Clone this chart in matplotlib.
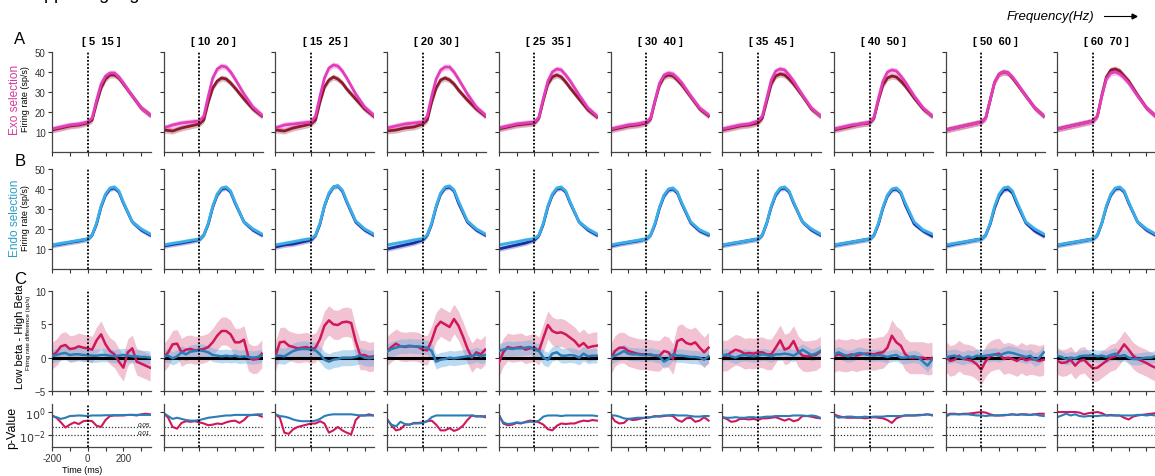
import numpy as np
import matplotlib.pyplot as plt

plt.rcParams['font.family'] = ['Liberation Sans', 'DejaVu Sans']

# frequency windows (one column each)
bands = ['[ 5  15 ]', '[ 10  20 ]', '[ 15  25 ]', '[ 20  30 ]', '[ 25  35 ]',
         '[ 30  40 ]', '[ 35  45 ]', '[ 40  50 ]', '[ 50  60 ]', '[ 60  70 ]']

# time axis (ms)
t_rate = [-200, -150, -100, -50, 0, 25, 50, 75, 100, 125, 150, 175, 200, 250, 300, 350]
t_diff = list(range(-200, 351, 25))

# A: exo selection firing rate, low beta (magenta) / high beta (dark red)
exo_low = [
    [11.5, 12.5, 13.5, 14.0, 15.0, 17.0, 26.0, 34.0, 38.0, 39.5, 39.5, 37.5, 34.5, 28.0, 22.0, 18.5],
    [12.0, 13.5, 14.5, 15.0, 15.5, 18.0, 28.0, 37.0, 41.5, 43.0, 42.5, 40.0, 36.5, 29.0, 22.5, 18.5],
    [12.0, 13.5, 14.0, 14.5, 15.0, 18.0, 28.0, 37.0, 42.0, 43.5, 43.0, 40.5, 37.0, 29.0, 22.5, 18.5],
    [12.0, 13.0, 14.0, 14.5, 15.0, 18.0, 28.0, 36.5, 41.0, 42.5, 42.5, 40.0, 36.5, 29.0, 22.5, 18.5],
    [12.0, 13.0, 14.0, 14.5, 15.0, 17.5, 27.0, 35.5, 40.0, 41.5, 41.0, 38.5, 35.5, 28.5, 22.0, 18.0],
    [11.5, 12.5, 13.5, 14.0, 15.0, 17.0, 26.0, 34.5, 38.5, 39.5, 39.0, 37.0, 34.5, 28.0, 22.0, 18.5],
    [11.5, 12.5, 13.5, 14.0, 15.5, 18.0, 27.0, 36.0, 40.5, 41.5, 41.0, 38.5, 35.5, 28.5, 22.0, 18.0],
    [11.5, 12.5, 13.5, 14.0, 15.0, 17.5, 27.0, 35.5, 40.0, 41.0, 40.5, 38.0, 35.0, 28.0, 22.0, 18.0],
    [11.0, 12.0, 13.0, 14.0, 15.0, 17.0, 26.0, 35.0, 39.0, 40.0, 39.5, 37.5, 34.5, 28.0, 22.0, 18.0],
    [11.5, 12.5, 13.5, 14.5, 15.5, 18.0, 28.0, 36.5, 39.5, 40.0, 39.0, 37.0, 34.5, 28.0, 22.0, 18.0],
]
exo_high = [
    [11.0, 12.0, 13.0, 13.5, 14.5, 16.0, 24.5, 32.0, 36.5, 38.5, 38.5, 37.0, 34.0, 28.0, 22.0, 18.5],
    [11.0, 10.5, 12.0, 13.0, 14.0, 16.0, 25.0, 32.0, 35.5, 37.0, 36.5, 34.5, 32.0, 26.5, 21.5, 18.0],
    [11.0, 10.5, 12.0, 13.0, 14.0, 16.0, 25.0, 32.5, 36.0, 37.5, 36.5, 34.5, 31.5, 26.5, 21.5, 18.0],
    [10.5, 11.0, 12.0, 12.5, 14.0, 16.0, 25.0, 32.0, 36.0, 37.0, 36.0, 34.0, 31.0, 26.0, 21.5, 18.0],
    [11.5, 12.5, 13.5, 14.0, 14.5, 17.0, 26.0, 34.0, 37.5, 38.5, 37.5, 35.0, 32.0, 26.5, 21.0, 17.5],
    [11.0, 12.0, 13.0, 13.5, 14.5, 16.5, 25.5, 33.5, 37.5, 38.5, 38.0, 36.0, 33.5, 27.5, 21.5, 18.0],
    [11.0, 12.0, 13.0, 13.5, 14.5, 17.0, 25.5, 34.0, 38.0, 39.0, 38.5, 36.5, 34.0, 28.0, 21.5, 18.0],
    [11.0, 12.0, 13.0, 14.0, 14.5, 17.0, 26.0, 33.5, 37.0, 38.0, 37.5, 35.5, 33.0, 27.0, 21.5, 18.0],
    [11.0, 12.0, 13.0, 14.0, 15.0, 17.0, 26.0, 35.0, 39.0, 40.0, 39.5, 37.0, 34.0, 28.0, 22.0, 18.0],
    [11.5, 12.5, 13.5, 14.5, 15.5, 18.0, 28.5, 37.5, 41.0, 41.5, 40.5, 38.0, 35.5, 28.5, 22.0, 18.0],
]

# B: endo selection firing rate, low beta (light blue) / high beta (dark blue)
endo_low = [
    [12.0, 12.8, 13.5, 14.3, 15.0, 17.0, 23.0, 31.5, 37.5, 40.5, 41.0, 39.0, 33.5, 23.5, 20.0, 17.5],
    [12.0, 12.8, 13.5, 14.3, 15.0, 17.0, 23.0, 31.5, 37.5, 40.5, 41.0, 39.0, 33.5, 23.5, 20.0, 17.5],
    [12.0, 12.8, 13.6, 14.5, 15.2, 17.0, 23.0, 31.5, 38.0, 41.0, 41.5, 39.5, 34.0, 24.0, 20.0, 17.5],
    [12.0, 12.8, 13.6, 14.5, 15.2, 17.0, 23.0, 31.5, 38.0, 41.0, 41.5, 39.5, 34.0, 24.0, 20.0, 17.5],
    [12.0, 12.8, 13.6, 14.5, 15.2, 17.0, 23.0, 31.5, 37.5, 40.5, 41.0, 39.0, 33.5, 23.5, 20.0, 17.5],
    [12.0, 12.8, 13.5, 14.3, 15.0, 17.0, 23.0, 31.0, 37.0, 40.0, 40.5, 38.5, 33.0, 23.5, 19.5, 17.5],
    [12.0, 12.8, 13.5, 14.3, 15.0, 17.0, 23.0, 31.5, 37.5, 40.5, 41.0, 39.0, 33.5, 23.5, 20.0, 17.5],
    [12.0, 12.8, 13.5, 14.3, 15.0, 17.0, 23.0, 31.0, 37.0, 40.0, 40.5, 38.5, 33.0, 23.5, 19.5, 17.5],
    [12.0, 12.8, 13.5, 14.3, 15.0, 17.0, 23.0, 31.5, 37.5, 40.5, 41.0, 39.0, 33.5, 23.5, 20.0, 17.5],
    [12.0, 12.8, 13.5, 14.3, 15.0, 17.0, 23.0, 31.5, 37.5, 40.5, 41.0, 39.0, 33.5, 23.5, 20.0, 17.5],
]
endo_high = [
    [11.8, 12.5, 13.3, 14.0, 15.0, 17.0, 22.5, 31.0, 37.0, 40.0, 40.5, 38.5, 33.0, 23.5, 19.5, 17.0],
    [11.5, 12.3, 13.0, 13.8, 14.8, 17.0, 22.5, 31.0, 37.0, 40.0, 40.5, 38.5, 33.0, 23.5, 19.5, 17.0],
    [11.0, 12.0, 12.5, 13.5, 14.5, 16.8, 22.5, 31.5, 37.5, 41.0, 41.5, 39.0, 33.5, 23.5, 19.5, 17.0],
    [10.0, 11.0, 12.0, 13.0, 14.5, 16.8, 22.5, 31.0, 37.5, 40.5, 41.0, 39.0, 33.0, 23.5, 19.5, 17.0],
    [10.0, 11.0, 12.0, 13.0, 14.5, 16.8, 22.5, 31.0, 37.0, 40.0, 40.5, 38.5, 33.0, 23.5, 19.5, 17.0],
    [11.5, 12.5, 13.3, 14.0, 15.0, 17.0, 22.5, 30.5, 36.5, 39.5, 40.0, 38.0, 32.5, 23.0, 19.0, 17.0],
    [11.8, 12.6, 13.4, 14.2, 15.0, 17.0, 23.0, 31.0, 37.0, 40.0, 40.5, 38.5, 33.0, 23.5, 19.5, 17.0],
    [11.8, 12.6, 13.4, 14.2, 15.0, 17.0, 22.5, 30.5, 36.5, 39.5, 40.0, 38.0, 32.0, 22.5, 19.0, 16.5],
    [11.5, 12.5, 13.3, 14.2, 15.0, 17.0, 22.5, 30.5, 36.5, 39.5, 40.0, 38.0, 32.5, 23.0, 19.0, 16.5],
    [11.8, 12.6, 13.4, 14.2, 15.0, 17.0, 23.0, 31.0, 37.0, 40.0, 40.5, 38.5, 33.0, 23.5, 19.5, 17.0],
]

# C: low beta - high beta firing rate difference (sp/s)
diff_exo = [
    [0.3, 0.8, 1.7, 1.9, 1.3, 1.4, 1.7, 1.5, 1.4, 1.2, 2.6, 3.5, 2.0, 1.0, 0.5, -0.6, -1.5, 0.8, 1.4, -0.6, -0.9, -1.2, -1.5],
    [0.0, 0.8, 2.0, 2.1, 0.8, 1.2, 1.3, 1.1, 1.2, 1.3, 1.6, 2.3, 3.3, 4.0, 4.0, 3.5, 2.3, 2.3, 2.7, 0.1, -0.3, -0.2, 0.6],
    [0.2, 2.3, 2.4, 1.8, 1.6, 1.4, 1.5, 1.6, 1.3, 1.5, 2.8, 4.8, 5.6, 5.0, 4.9, 5.3, 5.4, 5.2, 2.5, 0.4, 0.4, 0.1, 0.2],
    [1.0, 1.6, 2.1, 1.7, 1.6, 1.7, 1.7, 1.6, 1.2, 1.1, 2.6, 4.6, 5.4, 5.0, 4.6, 5.8, 4.8, 3.2, 1.4, 0.0, 0.8, 0.5, 1.2],
    [-0.8, 0.8, 1.6, 1.4, 1.5, 1.6, 1.2, 1.4, 1.5, 1.0, 3.0, 4.9, 4.0, 3.7, 3.8, 3.5, 3.0, 2.5, 1.7, 2.2, 1.5, 1.7, 1.8],
    [-0.3, 1.0, 1.5, 1.5, 1.0, 0.8, 0.6, 0.5, 0.5, 0.4, 0.3, 0.3, 1.0, 0.8, -0.2, 2.5, 2.8, 2.2, 2.0, 2.3, 1.5, 0.8, 1.5],
    [0.3, 0.3, 0.8, 1.2, 1.0, 0.6, 0.7, 0.6, 0.8, 0.8, 0.5, 0.5, 1.5, 2.6, 1.2, 1.5, 2.5, 1.0, 0.3, 0.2, 0.3, 0.4, 0.9],
    [0.2, 0.5, 0.3, 0.3, 0.5, 0.3, 0.5, 0.6, 0.6, 0.5, 0.7, 0.8, 1.5, 3.3, 2.3, 1.8, 0.5, 0.0, 0.0, 0.0, 0.0, -0.2, -0.1],
    [0.2, -0.5, -0.3, 0.3, -0.2, -0.3, -0.5, -1.0, -1.8, -0.5, 0.2, 0.5, 0.6, -0.2, 0.0, -0.2, -0.5, 0.0, -0.4, -0.2, -0.3, -0.5, -0.3],
    [-0.5, -0.8, -0.7, -0.3, -1.2, -0.5, -0.3, -1.0, -1.6, -1.5, -1.0, -0.5, 0.0, 0.2, 1.0, 2.0, 1.2, 0.3, -0.2, -0.5, -0.8, -1.2, -1.5],
]
diff_endo = [
    [0.2, 0.4, 0.6, 0.7, 0.4, 0.5, 0.5, 0.4, 0.4, 0.3, 0.3, 0.4, 0.4, 0.3, 0.2, 0.3, 0.4, 0.3, 0.2, 0.2, 0.1, 0.1, 0.0],
    [0.2, 0.3, -0.1, 0.2, 0.8, 0.5, 0.9, 1.0, 1.1, 1.0, 0.8, 0.4, 0.3, 0.2, 0.3, 0.2, 0.3, 0.1, 0.2, 0.1, 0.0, 0.1, 0.3],
    [0.3, 0.3, 0.2, 0.6, 1.0, 1.2, 1.3, 1.3, 1.2, 1.1, 0.5, -0.3, -0.6, -0.3, -0.2, 0.0, 0.0, 0.0, 0.1, 0.3, 0.0, -0.1, 0.0],
    [0.9, 1.3, 1.5, 1.7, 1.7, 1.8, 1.7, 1.7, 1.6, 1.5, 1.0, -0.6, -0.3, -0.2, 0.0, -0.1, 0.0, 0.1, 0.2, 0.2, 0.5, 0.2, 0.4],
    [1.0, 1.2, 1.4, 1.3, 1.4, 1.4, 1.5, 1.6, 1.2, 1.0, 0.0, -0.3, 0.6, 0.8, 0.3, 0.3, 0.4, 0.3, 0.0, 0.6, 0.2, 0.3, 0.3],
    [0.0, 0.3, 0.6, 1.0, 0.6, 0.5, 0.5, 0.4, 0.4, 0.5, 0.3, 0.2, -0.6, -0.2, 0.5, 0.3, 0.3, 0.2, 0.1, 0.1, 0.0, -0.3, 0.2],
    [0.3, 0.5, 0.2, 0.0, 0.3, 0.4, 0.3, 0.2, 0.3, 0.5, 0.4, 0.2, 0.5, 0.5, 0.6, 0.5, 0.3, 0.7, 1.2, 0.8, 0.4, 0.6, 1.0],
    [0.4, 0.8, 0.5, 0.2, 0.3, 0.6, 0.7, 0.5, 0.4, 0.3, 0.4, 0.3, 0.1, 0.3, 0.4, 0.0, 0.0, 0.1, 0.2, 0.0, -0.6, -1.2, -0.3],
    [0.0, 0.2, 0.3, 0.1, -0.1, 0.2, 0.0, 0.3, 0.2, 0.3, 0.4, 0.5, 0.3, 0.6, 0.8, 0.7, 0.5, 0.3, 0.1, 0.3, -0.3, 0.0, 0.8],
    [0.3, 0.1, -0.2, 0.0, -0.1, 0.2, 0.3, 0.3, 0.4, 0.2, 0.3, 0.1, 0.4, 0.6, 0.2, 0.4, 0.0, -0.2, -0.2, -0.1, 0.0, 0.0, 0.2],
]
sem_exo = [2.0, 2.1, 2.2, 2.2, 2.1, 2.3, 2.3, 2.4, 2.3, 2.0]
sem_endo = [1.0, 1.0, 1.2, 1.1, 1.1, 1.0, 0.9, 0.9, 1.0, 0.9]

# D: p-values (log10)
logp_exo = [
    [-0.3, -0.5, -0.9, -1.35, -1.1, -0.9, -1.05, -0.8, -0.75, -0.8, -1.2, -1.3, -0.7, -0.35, -0.3, -0.3, -0.3, -0.25, -0.25, -0.3, -0.2, -0.15, -0.2],
    [-0.1, -0.5, -1.3, -1.45, -0.95, -0.8, -0.85, -0.8, -0.9, -1.0, -1.15, -1.1, -1.0, -1.05, -0.9, -0.8, -0.75, -0.95, -0.7, -0.3, -0.25, -0.25, -0.4],
    [-0.2, -0.5, -1.8, -1.9, -1.5, -1.3, -1.2, -1.1, -1.0, -1.0, -0.8, -1.0, -1.8, -1.6, -1.3, -1.6, -1.8, -1.95, -0.7, -0.3, -0.3, -0.2, -0.3],
    [-0.6, -1.2, -1.6, -1.5, -1.1, -1.1, -0.95, -0.95, -0.9, -0.8, -0.75, -1.1, -1.6, -1.6, -1.4, -1.65, -1.5, -1.2, -0.7, -0.3, -0.4, -0.35, -0.45],
    [-0.2, -1.0, -1.15, -1.1, -0.95, -1.0, -0.85, -0.75, -0.8, -0.9, -1.1, -1.5, -1.6, -1.2, -1.0, -1.05, -1.0, -1.0, -0.85, -0.75, -0.8, -0.7, -0.75],
    [-0.25, -0.8, -1.0, -0.95, -0.6, -0.7, -0.65, -0.55, -0.5, -0.45, -0.35, -0.4, -0.35, -0.3, -0.35, -0.7, -0.85, -0.55, -0.5, -0.85, -0.75, -0.45, -0.75],
    [-0.45, -0.6, -0.85, -0.8, -0.6, -0.6, -0.65, -0.6, -0.7, -0.55, -0.55, -0.5, -0.45, -0.6, -0.75, -0.6, -0.8, -0.7, -0.35, -0.35, -0.4, -0.5, -0.55],
    [-0.2, -0.35, -0.45, -0.5, -0.5, -0.5, -0.5, -0.55, -0.5, -0.45, -0.5, -0.55, -0.7, -0.95, -0.55, -0.4, -0.3, -0.3, -0.3, -0.25, -0.25, -0.2, -0.25],
    [-0.3, -0.15, -0.15, -0.2, -0.15, -0.15, -0.1, -0.05, 0.0, -0.05, -0.2, -0.3, -0.3, -0.3, -0.25, -0.2, -0.25, -0.2, -0.2, -0.25, -0.2, -0.15, -0.15],
    [0.0, 0.0, 0.0, 0.0, 0.0, -0.05, -0.2, -0.1, -0.05, 0.0, -0.1, -0.3, -0.25, -0.3, -0.3, -0.5, -0.65, -0.4, -0.3, -0.25, -0.2, -0.15, -0.1],
]
logp_endo = [
    [-0.35, -0.45, -0.6, -0.5, -0.35, -0.33, -0.3, -0.32, -0.35, -0.3, -0.3, -0.3, -0.28, -0.28, -0.27, -0.27, -0.26, -0.26, -0.25, -0.25, -0.25, -0.25, -0.25],
    [-0.1, -0.35, -0.6, -0.5, -0.6, -0.7, -0.75, -0.75, -0.7, -0.6, -0.5, -0.45, -0.4, -0.35, -0.3, -0.3, -0.25, -0.25, -0.25, -0.25, -0.25, -0.2, -0.2],
    [-0.2, -0.35, -0.4, -0.5, -0.65, -0.75, -0.8, -0.8, -0.8, -0.75, -0.6, -0.35, -0.25, -0.2, -0.2, -0.2, -0.2, -0.2, -0.25, -0.3, -0.3, -0.3, -0.3],
    [-0.7, -1.1, -1.25, -0.85, -1.05, -1.1, -1.0, -1.0, -0.95, -0.8, -0.45, -0.3, -0.3, -0.3, -0.3, -0.3, -0.3, -0.3, -0.3, -0.3, -0.35, -0.4, -0.35],
    [-0.3, -0.9, -1.05, -1.0, -0.9, -0.95, -0.9, -0.85, -0.85, -0.75, -0.4, -0.3, -0.3, -0.3, -0.35, -0.3, -0.3, -0.3, -0.3, -0.3, -0.3, -0.3, -0.35],
    [-0.3, -0.3, -0.4, -0.55, -0.6, -0.55, -0.5, -0.5, -0.5, -0.45, -0.4, -0.35, -0.3, -0.3, -0.25, -0.3, -0.3, -0.3, -0.35, -0.4, -0.4, -0.35, -0.35],
    [-0.45, -0.5, -0.5, -0.45, -0.5, -0.5, -0.45, -0.45, -0.5, -0.45, -0.4, -0.4, -0.35, -0.35, -0.35, -0.35, -0.3, -0.3, -0.3, -0.35, -0.3, -0.35, -0.5],
    [-0.25, -0.5, -0.45, -0.4, -0.4, -0.45, -0.45, -0.4, -0.45, -0.4, -0.4, -0.4, -0.35, -0.35, -0.35, -0.35, -0.3, -0.3, -0.3, -0.3, -0.25, -0.2, -0.3],
    [-0.4, -0.2, -0.2, -0.2, -0.2, -0.2, -0.25, -0.3, -0.3, -0.35, -0.3, -0.3, -0.3, -0.25, -0.25, -0.2, -0.25, -0.2, -0.25, -0.25, -0.2, -0.3, -0.35],
    [-0.45, -0.3, -0.15, -0.3, -0.2, -0.35, -0.4, -0.35, -0.35, -0.35, -0.3, -0.3, -0.3, -0.3, -0.3, -0.3, -0.3, -0.3, -0.25, -0.25, -0.3, -0.25, -0.3],
]

# colours
c_exo_low, c_exo_high = '#e43dbb', '#8e1a2e'
c_endo_low, c_endo_high = '#3aaee8', '#1d2c9c'
c_diff_exo, c_diff_endo = '#d0175c', '#2b7db8'

W, H = 1155, 477
fig = plt.figure(figsize=(W / 100, H / 100), dpi=100)


def fx(px):
    return px / W


def fy(py):
    return 1 - py / H


rows = {'A': (53, 153), 'B': (170, 270), 'C': (292, 392), 'D': (405, 448)}
col_left = [52 + i * 111.7 for i in range(10)]
ax_w = 99
xticks = [-200, -100, 0, 100, 200, 300]


def style(ax):
    for s in ['top', 'right']:
        ax.spines[s].set_visible(False)
    for s in ['left', 'bottom']:
        ax.spines[s].set_color('#444444')
        ax.spines[s].set_linewidth(0.9)
    ax.tick_params(labelsize=7, colors='#333333', length=3, width=0.8, pad=1.5)
    ax.set_xlim(-200, 355)
    ax.set_xticks(xticks)
    ax.set_xticklabels([])


tr = np.array(t_rate)
td = np.array(t_diff)

for i in range(10):
    left = fx(col_left[i])
    axes = {}
    for key, (top, bot) in rows.items():
        axes[key] = fig.add_axes([left, fy(bot), fx(ax_w), (bot - top) / H])
        style(axes[key])

    # A: exo
    ax = axes['A']
    for y, c in [(exo_high[i], c_exo_high), (exo_low[i], c_exo_low)]:
        y = np.array(y)
        ax.fill_between(tr, y - 1.5, y + 1.5, color=c, alpha=0.3, lw=0)
        ax.plot(tr, y, color=c, lw=2.0)
    ax.set_ylim(0, 50)
    ax.set_yticks([10, 20, 30, 40, 50])
    ax.set_title(bands[i], fontsize=8, fontweight='bold', pad=6)

    # B: endo
    ax = axes['B']
    for y, c in [(endo_high[i], c_endo_high), (endo_low[i], c_endo_low)]:
        y = np.array(y)
        ax.fill_between(tr, y - 1.2, y + 1.2, color=c, alpha=0.3, lw=0)
        ax.plot(tr, y, color=c, lw=2.0)
    ax.set_ylim(0, 50)
    ax.set_yticks([10, 20, 30, 40, 50])

    # C: difference
    ax = axes['C']
    y = np.array(diff_exo[i])
    ax.fill_between(td, y - sem_exo[i], y + sem_exo[i], color='#e07a9c', alpha=0.45, lw=0)
    y2 = np.array(diff_endo[i])
    ax.fill_between(td, y2 - sem_endo[i], y2 + sem_endo[i], color='#6aaee0', alpha=0.45, lw=0)
    ax.plot([-200, 350], [0, 0], color='black', lw=2.2, zorder=3)
    ax.plot(td, y, color=c_diff_exo, lw=1.8, zorder=4)
    ax.plot(td, y2, color=c_diff_endo, lw=1.8, zorder=4)
    ax.set_ylim(-5, 10)
    ax.set_yticks([-5, 0, 5, 10])

    # D: p-values
    ax = axes['D']
    ax.set_yscale('log')
    ax.axhline(0.05, color='#333333', lw=0.9, ls=(0, (1, 1.5)))
    ax.axhline(0.01, color='#333333', lw=0.9, ls=(0, (1, 1.5)))
    ax.plot(td, 10 ** np.array(logp_exo[i]), color=c_diff_exo, lw=1.5)
    ax.plot(td, 10 ** np.array(logp_endo[i]), color=c_diff_endo, lw=1.5)
    ax.set_ylim(10 ** -3.05, 10 ** 0.7)
    ax.set_yticks([1e-2, 1e0])
    ax.set_yticklabels(['$10^{-2}$', '$10^{0}$'])
    ax.tick_params(axis='y', which='minor', length=2, width=0.6)
    ax.yaxis.set_minor_formatter(plt.NullFormatter())

    for key in 'ABCD':
        axes[key].axvline(0, color='black', lw=1.3, ls=(0, (1, 1)), zorder=5)
        if i > 0:
            axes[key].set_yticklabels([])

    if i == 0:
        axes['D'].set_xticklabels(['-200', '', '0', '', '200', ''])
        axes['D'].tick_params(axis='y', labelsize=8)
        axes['D'].text(352, 0.05, '0.05', fontsize=4.5, style='italic', ha='right', va='bottom')
        axes['D'].text(352, 0.01, '0.01', fontsize=4.5, style='italic', ha='right', va='bottom')

# labels
fig.text(fx(22), fy(-1), 'Supporting Fig. S5', fontsize=13, va='baseline')
fig.text(fx(20), fy(40), 'A', fontsize=12, ha='center', va='center')
fig.text(fx(20), fy(161), 'B', fontsize=12, ha='center', va='center')
fig.text(fx(20), fy(279), 'C', fontsize=12, ha='center', va='center')

fig.text(fx(15), fy(100), 'Exo selection', color='#d23a9e', fontsize=8.5, rotation=90, ha='center', va='center')
fig.text(fx(26), fy(99), 'Firing rate (sp/s)', fontsize=6.5, rotation=90, ha='center', va='center')
fig.text(fx(15), fy(218), 'Endo selection', color='#2b9fc9', fontsize=8.5, rotation=90, ha='center', va='center')
fig.text(fx(26), fy(218), 'Firing rate (sp/s)', fontsize=6.5, rotation=90, ha='center', va='center')
fig.text(fx(20), fy(337), 'Low beta - High Beta', fontsize=8, rotation=90, ha='center', va='center')
fig.text(fx(28.5), fy(333), 'Firing rate difference (sp/s)', fontsize=4.5, rotation=90, ha='center', va='center')
fig.text(fx(12), fy(428), 'p-Value', fontsize=9, rotation=90, ha='center', va='center')
fig.text(fx(82), fy(471), 'Time (ms)', fontsize=6.5, ha='center', va='center')

fig.text(fx(1050), fy(17), 'Frequency(Hz)', fontsize=9.5, style='italic', ha='center', va='center')
fig.add_artist(plt.Line2D([fx(1104), fx(1132)], [fy(17), fy(17)], color='black', lw=0.8))
fig.add_artist(plt.Line2D([fx(1134)], [fy(17)], color='black', marker='>', markersize=3.5))

fig.savefig('out.png', dpi=100)
